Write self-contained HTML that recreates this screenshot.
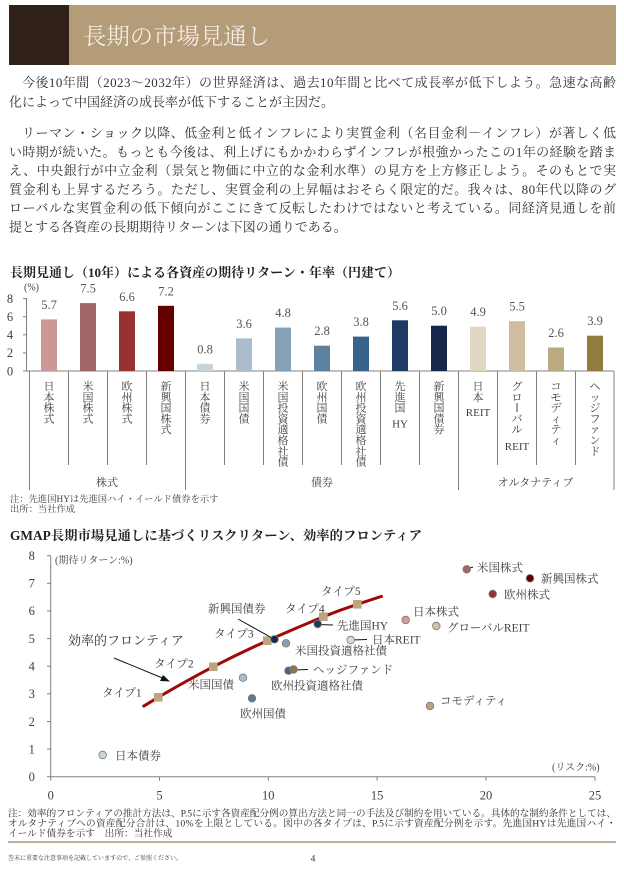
<!DOCTYPE html>
<html><head><meta charset="utf-8">
<style>
html,body{margin:0;padding:0;background:#fff;}
svg{display:block;}
.s{font-family:"Liberation Serif","Noto Serif CJK SC",serif;}
</style></head>
<body>
<svg width="624" height="870" viewBox="0 0 624 870" xmlns="http://www.w3.org/2000/svg" class="s">
<!-- Header -->
<rect x="9" y="5" width="60" height="60" fill="#2f2118"/>
<rect x="69" y="5" width="547" height="60" fill="#b49c79"/>
<text x="83" y="44" font-size="23" fill="#f8f4ee" font-weight="300" textLength="187" lengthAdjust="spacingAndGlyphs">長期の市場見通し</text>

<!-- Body text -->
<g font-size="13" fill="#333">
<text x="22" y="87" textLength="594" lengthAdjust="spacing">今後10年間（2023～2032年）の世界経済は、過去10年間と比べて成長率が低下しよう。急速な高齢</text>
<text x="9" y="106.5">化によって中国経済の成長率が低下することが主因だ。</text>
<text x="22" y="137.5" textLength="594" lengthAdjust="spacing">リーマン・ショック以降、低金利と低インフレにより実質金利（名目金利－インフレ）が著しく低</text>
<text x="9" y="156.3" textLength="607" lengthAdjust="spacing">い時期が続いた。もっとも今後は、利上げにもかかわらずインフレが根強かったこの1年の経験を踏ま</text>
<text x="9" y="175" textLength="607" lengthAdjust="spacing">え、中央銀行が中立金利（景気と物価に中立的な金利水準）の見方を上方修正しよう。そのもとで実</text>
<text x="9" y="193.8" textLength="607" lengthAdjust="spacing">質金利も上昇するだろう。ただし、実質金利の上昇幅はおそらく限定的だ。我々は、80年代以降のグ</text>
<text x="9" y="212.5" textLength="607" lengthAdjust="spacing">ローバルな実質金利の低下傾向がここにきて反転したわけではないと考えている。同経済見通しを前</text>
<text x="9" y="231.3">提とする各資産の長期期待リターンは下図の通りである。</text>
</g>

<!-- Bar chart title -->
<text x="10" y="277" font-size="13" font-weight="bold" fill="#222" textLength="390" lengthAdjust="spacing">長期見通し（10年）による各資産の期待リターン・年率（円建て）</text>
<text x="24" y="290.5" font-size="10" fill="#404040">(%)</text>

<!-- Bar chart axes -->
<g stroke="#808080" stroke-width="1" fill="none">
<line x1="26.5" y1="298" x2="26.5" y2="371"/>
<line x1="23" y1="298.6" x2="26.5" y2="298.6"/>
<line x1="23" y1="316.7" x2="26.5" y2="316.7"/>
<line x1="23" y1="334.8" x2="26.5" y2="334.8"/>
<line x1="23" y1="352.9" x2="26.5" y2="352.9"/>
<line x1="23" y1="371" x2="614" y2="371"/>
<line x1="29.5" y1="371" x2="29.5" y2="490"/>
<line x1="185.5" y1="371" x2="185.5" y2="490"/>
<line x1="458.5" y1="371" x2="458.5" y2="490"/>
<line x1="614" y1="371" x2="614" y2="490"/>
<line x1="68.5" y1="371" x2="68.5" y2="465"/>
<line x1="107.5" y1="371" x2="107.5" y2="465"/>
<line x1="146.5" y1="371" x2="146.5" y2="465"/>
<line x1="224.5" y1="371" x2="224.5" y2="465"/>
<line x1="263.5" y1="371" x2="263.5" y2="465"/>
<line x1="302.5" y1="371" x2="302.5" y2="465"/>
<line x1="341.5" y1="371" x2="341.5" y2="465"/>
<line x1="380.5" y1="371" x2="380.5" y2="465"/>
<line x1="419.5" y1="371" x2="419.5" y2="465"/>
<line x1="497.5" y1="371" x2="497.5" y2="465"/>
<line x1="536.5" y1="371" x2="536.5" y2="465"/>
<line x1="575.5" y1="371" x2="575.5" y2="465"/>
</g>
<g font-size="12.5" fill="#404040" text-anchor="middle">
<text x="10" y="303">8</text>
<text x="10" y="321">6</text>
<text x="10" y="339">4</text>
<text x="10" y="357">2</text>
<text x="10" y="375.5">0</text>
</g>

<!-- Bars -->
<rect x="41" y="319.4" width="16" height="51.6" fill="#cc9797"/>
<rect x="80" y="303.1" width="16" height="67.9" fill="#a06565"/>
<rect x="119" y="311.3" width="16" height="59.7" fill="#983232"/>
<rect x="158" y="305.8" width="16" height="65.2" fill="#660000"/>
<rect x="197" y="363.8" width="16" height="7.2" fill="#c6d4db"/>
<rect x="236" y="338.4" width="16" height="32.6" fill="#abbccc"/>
<rect x="275" y="327.6" width="16" height="43.4" fill="#86a0b8"/>
<rect x="314" y="345.7" width="16" height="25.3" fill="#5d819f"/>
<rect x="353" y="336.6" width="16" height="34.4" fill="#36628b"/>
<rect x="392" y="320.3" width="16" height="50.7" fill="#1f3b63"/>
<rect x="431" y="325.7" width="16" height="45.3" fill="#15274b"/>
<rect x="470" y="326.7" width="16" height="44.3" fill="#e1d6c1"/>
<rect x="509" y="321.2" width="16" height="49.8" fill="#cebe9e"/>
<rect x="548" y="347.5" width="16" height="23.5" fill="#bca97f"/>
<rect x="587" y="335.7" width="16" height="35.3" fill="#917b3f"/>

<g font-size="12.5" fill="#555" text-anchor="middle">
<text x="49" y="308.9">5.7</text>
<text x="88" y="292.6">7.5</text>
<text x="127" y="300.8">6.6</text>
<text x="166" y="295.3">7.2</text>
<text x="205" y="353.3">0.8</text>
<text x="244" y="327.9">3.6</text>
<text x="283" y="317.1">4.8</text>
<text x="322" y="335.2">2.8</text>
<text x="361" y="326.1">3.8</text>
<text x="400" y="309.8">5.6</text>
<text x="439" y="315.2">5.0</text>
<text x="478" y="316.2">4.9</text>
<text x="517" y="310.7">5.5</text>
<text x="556" y="337">2.6</text>
<text x="595" y="325.2">3.9</text>
</g>

<!-- Category labels (vertical) -->
<g font-size="11" fill="#404040" text-anchor="middle">
<g transform="translate(49,0)"><text y="390">日</text><text y="400.8">本</text><text y="411.6">株</text><text y="422.4">式</text></g>
<g transform="translate(88,0)"><text y="390">米</text><text y="400.8">国</text><text y="411.6">株</text><text y="422.4">式</text></g>
<g transform="translate(127,0)"><text y="390">欧</text><text y="400.8">州</text><text y="411.6">株</text><text y="422.4">式</text></g>
<g transform="translate(166,0)"><text y="390">新</text><text y="400.8">興</text><text y="411.6">国</text><text y="422.4">株</text><text y="433.2">式</text></g>
<g transform="translate(205,0)"><text y="390">日</text><text y="400.8">本</text><text y="411.6">債</text><text y="422.4">券</text></g>
<g transform="translate(244,0)"><text y="390">米</text><text y="400.8">国</text><text y="411.6">国</text><text y="422.4">債</text></g>
<g transform="translate(283,0)"><text y="390">米</text><text y="400.8">国</text><text y="411.6">投</text><text y="422.4">資</text><text y="433.2">適</text><text y="444">格</text><text y="454.8">社</text><text y="465.6">債</text></g>
<g transform="translate(322,0)"><text y="390">欧</text><text y="400.8">州</text><text y="411.6">国</text><text y="422.4">債</text></g>
<g transform="translate(361,0)"><text y="390">欧</text><text y="400.8">州</text><text y="411.6">投</text><text y="422.4">資</text><text y="433.2">適</text><text y="444">格</text><text y="454.8">社</text><text y="465.6">債</text></g>
<g transform="translate(400,0)"><text y="390">先</text><text y="400.8">進</text><text y="411.6">国</text><text y="427.5">HY</text></g>
<g transform="translate(439,0)"><text y="390">新</text><text y="400.8">興</text><text y="411.6">国</text><text y="422.4">債</text><text y="433.2">券</text></g>
<g transform="translate(478,0)"><text y="390">日</text><text y="400.8">本</text><text y="416">REIT</text></g>
<g transform="translate(517,0)"><text y="390">グ</text><text y="400.8">ロ</text><text y="422.4">バ</text><text y="433.2">ル</text><text y="450">REIT</text></g>
<g transform="translate(556,0)"><text y="390">コ</text><text y="400.8">モ</text><text y="411.6">デ</text><text y="422.4">ィ</text><text y="433.2">テ</text><text y="444">ィ</text></g>
<g transform="translate(595,0)"><text y="390">ヘ</text><text y="400.8">ッ</text><text y="411.6">ジ</text><text y="422.4">フ</text><text y="433.2">ァ</text><text y="444">ン</text><text y="454.8">ド</text></g>
<text x="107" y="486">株式</text>
<text x="322" y="486">債券</text>
<text x="535.5" y="486">オルタナティブ</text>
</g>
<line x1="517" y1="403" x2="517" y2="412" stroke="#404040" stroke-width="1"/>

<g font-size="9.3" fill="#404040">
<text x="10" y="501.8">注：先進国HYは先進国ハイ・イールド債券を示す</text>
<text x="10" y="511.8">出所：当社作成</text>
</g>

<!-- Scatter chart -->
<text x="10" y="540" font-size="13.3" font-weight="bold" fill="#222" textLength="412" lengthAdjust="spacing">GMAP長期市場見通しに基づくリスクリターン、効率的フロンティア</text>

<g stroke="#808080" stroke-width="1" fill="none">
<line x1="50.7" y1="555.7" x2="50.7" y2="776.7"/>
<line x1="50.7" y1="776.7" x2="595" y2="776.7"/>
<line x1="47" y1="555.7" x2="50.7" y2="555.7"/>
<line x1="47" y1="583.3" x2="50.7" y2="583.3"/>
<line x1="47" y1="610.9" x2="50.7" y2="610.9"/>
<line x1="47" y1="638.6" x2="50.7" y2="638.6"/>
<line x1="47" y1="666.2" x2="50.7" y2="666.2"/>
<line x1="47" y1="693.8" x2="50.7" y2="693.8"/>
<line x1="47" y1="721.5" x2="50.7" y2="721.5"/>
<line x1="47" y1="749.1" x2="50.7" y2="749.1"/>
<line x1="47" y1="776.7" x2="50.7" y2="776.7"/>
<line x1="50.7" y1="776.7" x2="50.7" y2="780.7"/>
<line x1="159.5" y1="776.7" x2="159.5" y2="780.7"/>
<line x1="268.3" y1="776.7" x2="268.3" y2="780.7"/>
<line x1="377.1" y1="776.7" x2="377.1" y2="780.7"/>
<line x1="486" y1="776.7" x2="486" y2="780.7"/>
<line x1="595" y1="776.7" x2="595" y2="780.7"/>
</g>
<g font-size="12.5" fill="#404040" text-anchor="middle">
<text x="31.7" y="560">8</text>
<text x="31.7" y="587.6">7</text>
<text x="31.7" y="615.2">6</text>
<text x="31.7" y="642.9">5</text>
<text x="31.7" y="670.5">4</text>
<text x="31.7" y="698.1">3</text>
<text x="31.7" y="725.8">2</text>
<text x="31.7" y="753.4">1</text>
<text x="31.7" y="781">0</text>
<text x="50.7" y="799.5">0</text>
<text x="159.5" y="799.5">5</text>
<text x="268.3" y="799.5">10</text>
<text x="377.1" y="799.5">15</text>
<text x="486" y="799.5">20</text>
<text x="595" y="799.5">25</text>
</g>
<text x="55" y="563.5" font-size="10" fill="#404040">(期待リターン:%)</text>
<text x="552" y="770.5" font-size="10" fill="#404040">(リスク:%)</text>

<!-- Frontier -->
<path d="M142.7,706.7 L158.3,697.3 Q186,681 213.3,666.7 Q240,653 267.3,640.7 Q296,628 323.3,616.7 Q340,610 357.3,604.3 L382.7,596" stroke="#9e0a0a" stroke-width="3" fill="none"/>
<g fill="#bba682">
<rect x="154" y="693" width="8.6" height="8.6"/>
<rect x="209" y="662.4" width="8.6" height="8.6"/>
<rect x="263" y="636.4" width="8.6" height="8.6"/>
<rect x="319" y="612.4" width="8.6" height="8.6"/>
<rect x="353" y="600" width="8.6" height="8.6"/>
</g>

<!-- leader lines -->
<g stroke="#111" stroke-width="1" fill="none">
<line x1="238" y1="619" x2="272" y2="638"/>
<line x1="318" y1="624.5" x2="333" y2="625"/>
<line x1="352" y1="640" x2="367" y2="639.5"/>
<line x1="294" y1="670" x2="308" y2="669.5"/>
<line x1="467" y1="569" x2="473" y2="567"/>
<line x1="114" y1="658" x2="166" y2="679.5"/>
</g>
<polygon points="170,681.5 160,681 163,675" fill="#111"/>

<!-- points -->
<g stroke="#7a7a7a" stroke-width="0.8">
<circle cx="102.7" cy="755" r="3.8" fill="#c7d5dd"/>
<circle cx="243" cy="677.7" r="3.8" fill="#a8bccb"/>
<circle cx="252" cy="698.3" r="3.8" fill="#577b98"/>
<circle cx="286" cy="643.3" r="3.8" fill="#87a0b6"/>
<circle cx="274.5" cy="639.3" r="3.8" fill="#172a4c"/>
<circle cx="288.5" cy="670.7" r="3.8" fill="#3e6893"/>
<circle cx="293.5" cy="669.5" r="3.8" fill="#8c7840"/>
<circle cx="317.7" cy="624" r="3.8" fill="#1f3a62"/>
<circle cx="350.7" cy="640" r="3.8" fill="#e2d8c4"/>
<circle cx="405.7" cy="620" r="3.8" fill="#d49b9c"/>
<circle cx="436.3" cy="626" r="3.8" fill="#d0c1a0"/>
<circle cx="466.7" cy="569.3" r="3.8" fill="#a26767"/>
<circle cx="530" cy="578.3" r="3.8" fill="#660000"/>
<circle cx="492.7" cy="594" r="3.8" fill="#9b3030"/>
<circle cx="430" cy="706" r="3.8" fill="#b8a57a"/>
</g>

<!-- point labels -->
<g font-size="11.5" fill="#404040">
<text x="115" y="759.3">日本債券</text>
<text x="188" y="688.3">米国国債</text>
<text x="240" y="717.3">欧州国債</text>
<text x="208" y="612.3">新興国債券</text>
<text x="295" y="654.3">米国投資適格社債</text>
<text x="271" y="689.3">欧州投資適格社債</text>
<text x="313" y="673.3">ヘッジファンド</text>
<text x="337" y="629.3">先進国HY</text>
<text x="372" y="643.3">日本REIT</text>
<text x="413" y="615.3">日本株式</text>
<text x="447" y="631.3">グローバルREIT</text>
<text x="477" y="571.3">米国株式</text>
<text x="541" y="582.6">新興国株式</text>
<text x="504" y="598.3">欧州株式</text>
<text x="440" y="704.3">コモディティ</text>
<text x="102" y="696.3">タイプ1</text>
<text x="154" y="667.3">タイプ2</text>
<text x="214" y="637.3">タイプ3</text>
<text x="285" y="612.3">タイプ4</text>
<text x="321" y="594.8">タイプ5</text>
</g>
<text x="68" y="645" font-size="13" fill="#333">効率的フロンティア</text>

<!-- Notes -->
<g font-size="9.7" fill="#333">
<text x="8" y="816.5" textLength="608" lengthAdjust="spacing">注：効率的フロンティアの推計方法は、P.5に示す各資産配分例の算出方法と同一の手法及び制約を用いている。具体的な制約条件としては、</text>
<text x="8" y="826.5" textLength="608" lengthAdjust="spacing">オルタナティブへの資産配分合計は、10%を上限としている。図中の各タイプは、P.5に示す資産配分例を示す。先進国HYは先進国ハイ・</text>
<text x="8" y="836.5">イールド債券を示す　出所：当社作成</text>
</g>
<line x1="8" y1="842" x2="616" y2="842" stroke="#a89478" stroke-width="1.5"/>
<text x="8" y="860" font-size="6" fill="#333" textLength="174" lengthAdjust="spacing">巻末に重要な注意事項を記載していますので、ご参照ください。</text>
<text x="313" y="861.5" font-size="9.5" fill="#333" text-anchor="middle">4</text>
</svg>
</body></html>
